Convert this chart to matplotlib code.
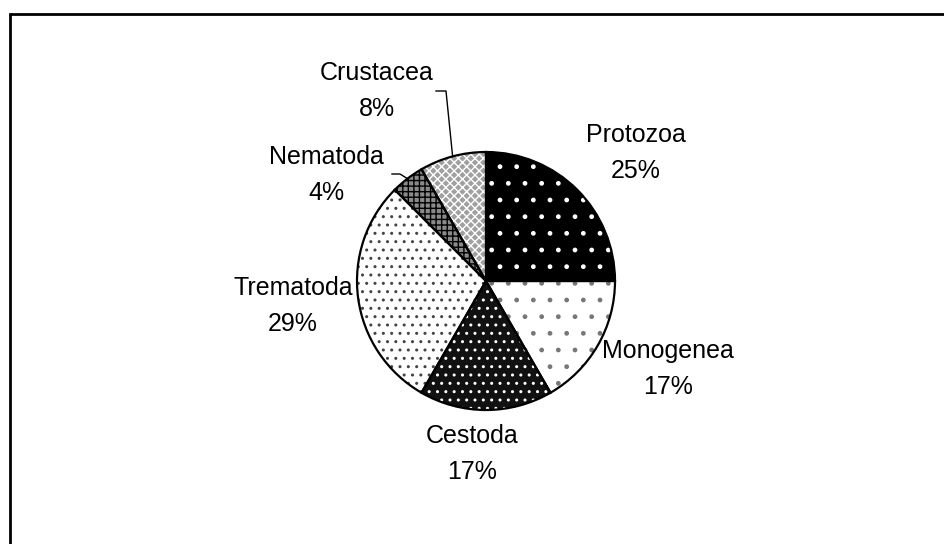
import matplotlib
matplotlib.use("Agg")
import matplotlib.pyplot as plt
from matplotlib.patches import Rectangle
import numpy as np

plt.rcParams['font.family'] = ['Liberation Sans', 'DejaVu Sans']
plt.rcParams['hatch.linewidth'] = 1.0

# data (number of species per group)
names = ["Protozoa", "Monogenea", "Cestoda", "Trematoda", "Nematoda", "Crustacea"]
values = [6, 4, 4, 7, 1, 2]

# fill styles
faces = ["black", "white", "#111111", "white", "#8a8a8a", "#a0a0a0"]
hatch_cols = ["white", "#777777", "white", "#444444", "black", "white"]
hatches = [".", ".", "..", "..", "+++", "xxxx"]

# label block centres in pixel coords (x, y from top)
label_xy = [(636, 153), (668, 369), (472, 454), (293, 306), (326, 175), (377, 91)]
# leader line start points (only for the small slices)
leaders = {4: [(392, 174), (400, 174)], 5: [(436, 91), (446, 91)]}

W, H = 944, 544
fig = plt.figure(figsize=(W / 100, H / 100), dpi=100)
ax = fig.add_axes([0, 0, 1, 1])

cx, cy, r = 486, H - 281, 129

wedges, _ = ax.pie(values, startangle=90, counterclock=False, center=(cx, cy),
                   radius=r, frame=True, wedgeprops=dict(linewidth=0))
for w, fc, hc, h in zip(wedges, faces, hatch_cols, hatches):
    w.set_facecolor(fc)
    w.set_edgecolor(hc)
    w.set_hatch(h)
    w.set_linewidth(0)

# outlines on top
outl, _ = ax.pie(values, startangle=90, counterclock=False, center=(cx, cy),
                 radius=r, frame=True,
                 wedgeprops=dict(facecolor="none", edgecolor="black", linewidth=1.6))

total = sum(values)
for i, (n, v) in enumerate(zip(names, values)):
    x, y = label_xy[i]
    ax.text(x, H - y, f"{n}\n{round(100 * v / total)}%", ha="center", va="center",
            fontsize=18, linespacing=1.6)

for i, pts in leaders.items():
    w = wedges[i]
    mid = np.deg2rad((w.theta1 + w.theta2) / 2)
    ex, ey = cx + r * np.cos(mid), cy + r * np.sin(mid)
    xs = [p[0] for p in pts] + [ex]
    ys = [H - p[1] for p in pts] + [ey]
    ax.plot(xs, ys, color="black", linewidth=1.0)

# chart border (only left and top visible)
ax.add_patch(Rectangle((10, -20), W + 20, H - 14 + 20, fill=False,
                       edgecolor="black", linewidth=2, clip_on=False))

ax.set_xlim(0, W)
ax.set_ylim(0, H)
ax.set_aspect("equal")
ax.axis("off")

fig.savefig("out.png", dpi=100)
